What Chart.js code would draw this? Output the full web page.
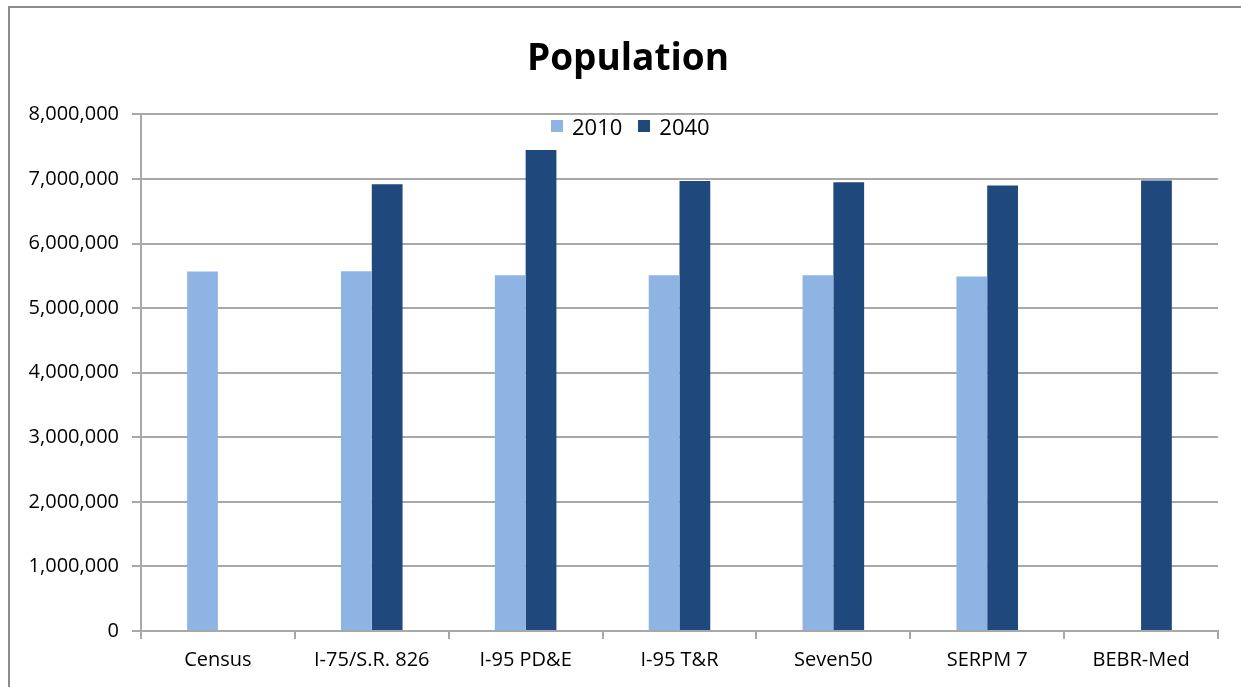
<!DOCTYPE html>
<html>
<head>
<meta charset="utf-8">
<script src="https://cdn.jsdelivr.net/npm/chart.js@4.4.0/dist/chart.umd.min.js"></script>
<style>
    html, body { margin: 0; padding: 0; background: #fff; overflow: hidden; }
    #wrap { position: relative; width: 1241px; height: 687px; }
    #frame { position: absolute; left: 8px; top: 6px; width: 1260px; height: 700px; border: 2px solid #8c8c8c; box-sizing: border-box; }
    #popChart { position: absolute; left: 0; top: 0; }
    #legend { position: absolute; left: 551px; top: 113px; font-family: "Open Sans", sans-serif; font-size: 22px; color: #000; display: flex; align-items: center; }
    #legend span.box { display: inline-block; width: 12px; height: 12px; margin-right: 9px; }
    #legend span.lbl { margin-right: 16px; line-height: 26px; }
</style>
</head>
<body>
<div id="wrap">
    <div id="frame"></div>
    <canvas id="popChart" width="1241" height="687"></canvas>
    <div id="legend"></div>
</div>
<script>
// data
const categories = ['Census', 'I-75/S.R. 826', 'I-95 PD&E', 'I-95 T&R', 'Seven50', 'SERPM 7', 'BEBR-Med'];
const pop2010 = [5567000, 5570000, 5510000, 5510000, 5510000, 5490000, null];
const pop2040 = [null, 6918000, 7450000, 6970000, 6950000, 6900000, 6975000];
const seriesNames = ['2010', '2040'];
const seriesColors = ['#8eb4e3', '#1f497d'];

const ctx = document.getElementById('popChart').getContext('2d');

// legend sits inside the plot, like the Excel original
const legendEl = document.getElementById('legend');
seriesNames.forEach((name, i) => {
    legendEl.innerHTML += `<span class="box" style="background:${seriesColors[i]}"></span><span class="lbl">${name}</span>`;
});

Chart.defaults.font.family = '"Open Sans", sans-serif';
Chart.defaults.color = '#000';

const gridColor = '#a8a8a8';

// excel centres the title over the frame, not the canvas
const titleShift = {
    id: 'titleShift',
    afterLayout(chart) {
        chart.titleBlock.left += 38;
    }
};

const graph = new Chart(ctx, {
    type: 'bar',
    data: {
        labels: categories,
        datasets: [{
            label: seriesNames[0],
            data: pop2010,
            backgroundColor: seriesColors[0],
            borderWidth: 0,
        }, {
            label: seriesNames[1],
            data: pop2040,
            backgroundColor: seriesColors[1],
            borderWidth: 0,
        }]
    },
    options: {
        responsive: false,
        animation: false,
        categoryPercentage: 0.4,
        barPercentage: 1.0,
        layout: {
            padding: { left: 0, right: 23, top: 0, bottom: 0 }
        },
        plugins: {
            legend: { display: false },
            tooltip: { enabled: false },
            title: {
                display: true,
                text: 'Population',
                color: '#000',
                font: { size: 37, weight: 'bold' },
                padding: { top: 37, bottom: 33 }
            }
        },
        scales: {
            x: {
                grid: {
                    offset: true,
                    drawOnChartArea: false,
                    drawTicks: true,
                    tickLength: 8,
                    color: gridColor,
                    lineWidth: 2
                },
                border: { color: gridColor, width: 2 },
                ticks: {
                    font: { size: 20 },
                    padding: 9,
                    maxRotation: 0,
                    autoSkip: false
                },
                afterFit: (scale) => { scale.height = 56; }
            },
            y: {
                min: 0,
                max: 8000000,
                grid: {
                    color: gridColor,
                    lineWidth: 2,
                    tickLength: 9
                },
                border: { color: gridColor, width: 2 },
                ticks: {
                    stepSize: 1000000,
                    font: { size: 20 },
                    padding: 13,
                    callback: (v) => v.toLocaleString('en-US')
                },
                afterFit: (scale) => { scale.width = 141; }
            }
        }
    },
    plugins: [titleShift]
});
</script>
</body>
</html>
